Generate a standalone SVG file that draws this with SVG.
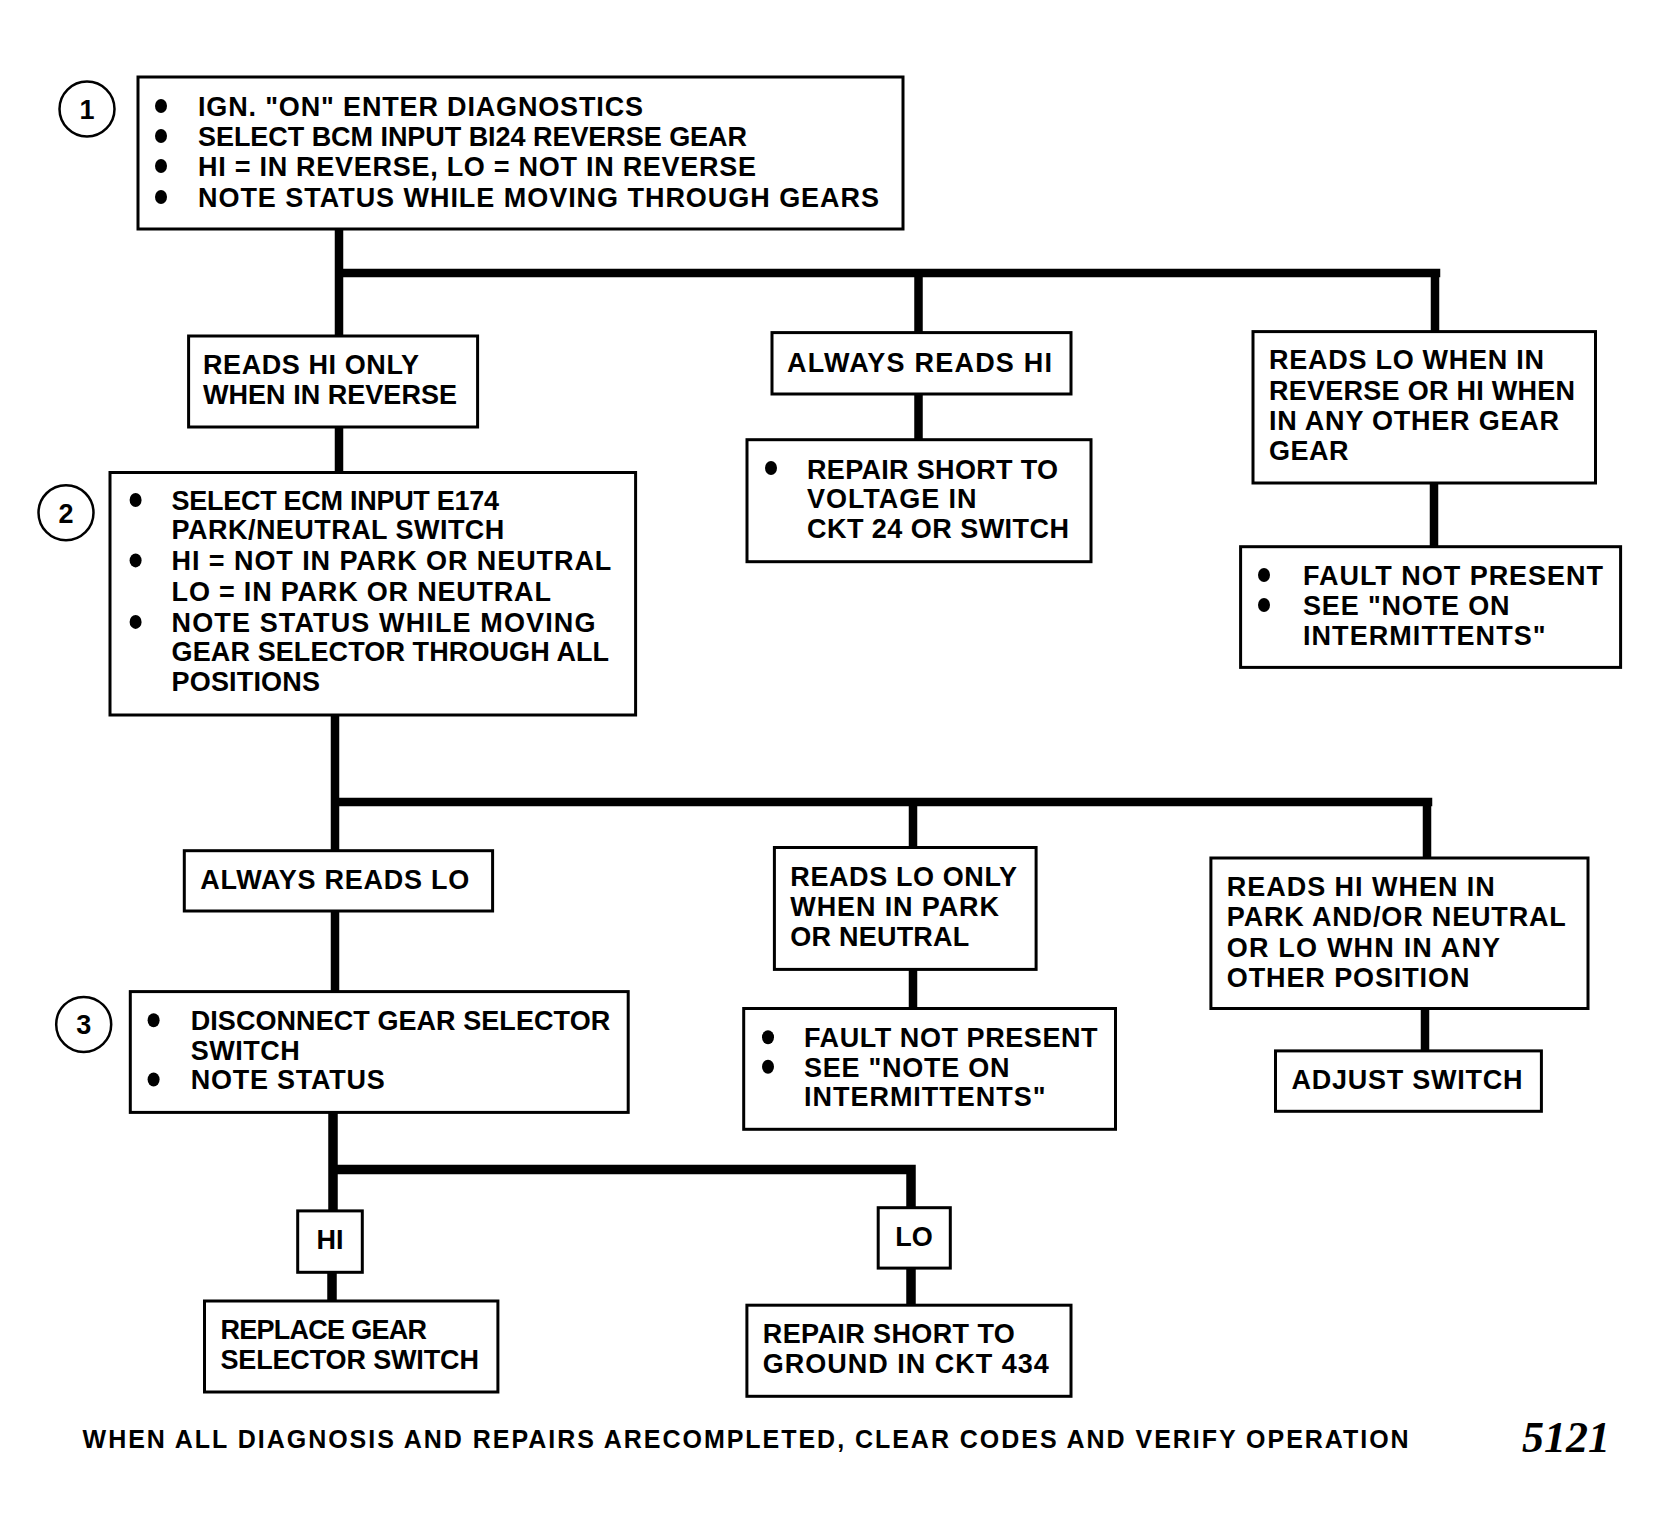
<svg xmlns="http://www.w3.org/2000/svg" width="1661" height="1527" viewBox="0 0 1661 1527">
<style>
.box{fill:#fff;stroke:#000;stroke-width:3}
.t{font-family:"Liberation Sans",Arial,sans-serif;font-weight:bold;font-size:27px;fill:#000}
.b{fill:#000}
.num{font-family:"Liberation Sans",Arial,sans-serif;font-size:27px;font-weight:bold;fill:#000;text-anchor:middle}
.ring{fill:none;stroke:#000;stroke-width:2.5}
.c{fill:none;stroke:#000;stroke-width:8.5;stroke-linecap:square}
.foot{font-family:"Liberation Sans",Arial,sans-serif;font-weight:bold;font-size:25px;fill:#000}
.fig{font-family:"Liberation Serif","Times New Roman",serif;font-style:italic;font-weight:bold;font-size:44px;fill:#000}
</style>
<rect width="1661" height="1527" fill="#fff"/>
<g id="connectors">
<path class="c" d="M339,229 V472 M339,273 H1436 M918.5,273 V332 M918.5,394 V439 M1435,273 V331 M1434,483 V546"/>
<path class="c" d="M335,715 V991 M335,802 H1428 M913,802 V847 M913,969 V1008 M1427,802 V858 M1425,1008 V1051"/>
<path class="c" d="M333,1112 V1211 M333,1169.6 H911 M911,1169.6 V1208 M332,1272 V1301 M911,1268 V1305" style="stroke-width:9.5"/>
</g>
<g id="n1">
<circle class="ring" cx="87" cy="109" r="27.5"/>
<text class="num" x="87" y="119">1</text>
<rect class="box" x="138" y="77" width="765" height="152"/>
<ellipse class="b" cx="161" cy="106" rx="6" ry="7"/>
<ellipse class="b" cx="161" cy="136" rx="6" ry="7"/>
<ellipse class="b" cx="161" cy="166" rx="6" ry="7"/>
<ellipse class="b" cx="161" cy="197" rx="6" ry="7"/>
<text class="t" x="198" y="115.5" textLength="445">IGN. "ON" ENTER DIAGNOSTICS</text>
<text class="t" x="198" y="145.5" textLength="549">SELECT BCM INPUT BI24 REVERSE GEAR</text>
<text class="t" x="198" y="176" textLength="558">HI = IN REVERSE, LO = NOT IN REVERSE</text>
<text class="t" x="198" y="206.5" textLength="681">NOTE STATUS WHILE MOVING THROUGH GEARS</text>
</g>
<g id="nA">
<rect class="box" x="188.6" y="336" width="289" height="91"/>
<text class="t" x="203" y="373.5" textLength="216">READS HI ONLY</text>
<text class="t" x="203" y="404" textLength="254">WHEN IN REVERSE</text>
</g>
<g id="nB">
<rect class="box" x="772" y="332.6" width="299" height="61.4"/>
<text class="t" x="787" y="371.5" textLength="265">ALWAYS READS HI</text>
</g>
<g id="nC">
<rect class="box" x="747" y="439.7" width="344" height="122"/>
<ellipse class="b" cx="771" cy="468" rx="6" ry="7"/>
<text class="t" x="807" y="478.5" textLength="251">REPAIR SHORT TO</text>
<text class="t" x="807" y="508" textLength="169.5">VOLTAGE IN</text>
<text class="t" x="807" y="537.5" textLength="262">CKT 24 OR SWITCH</text>
</g>
<g id="nD">
<rect class="box" x="1253" y="331.6" width="342.5" height="151.4"/>
<text class="t" x="1269" y="369" textLength="275">READS LO WHEN IN</text>
<text class="t" x="1269" y="399.8" textLength="306">REVERSE OR HI WHEN</text>
<text class="t" x="1269" y="430.4" textLength="290">IN ANY OTHER GEAR</text>
<text class="t" x="1269" y="460" textLength="79.5">GEAR</text>
</g>
<g id="nE">
<rect class="box" x="1240.6" y="546.7" width="380" height="120.7"/>
<ellipse class="b" cx="1264" cy="575" rx="6" ry="7"/>
<ellipse class="b" cx="1264" cy="605" rx="6" ry="7"/>
<text class="t" x="1303" y="585.2" textLength="300">FAULT  NOT PRESENT</text>
<text class="t" x="1303" y="614.9" textLength="206.6">SEE "NOTE ON</text>
<text class="t" x="1303" y="645.4" textLength="242.6">INTERMITTENTS"</text>
</g>
<g id="n2">
<circle class="ring" cx="66" cy="512.7" r="27.5"/>
<text class="num" x="66" y="522.5">2</text>
<rect class="box" x="110" y="472.5" width="525.6" height="242.5"/>
<ellipse class="b" cx="135.6" cy="500" rx="6" ry="7"/>
<ellipse class="b" cx="135.6" cy="560.4" rx="6" ry="7"/>
<ellipse class="b" cx="135.6" cy="621.9" rx="6" ry="7"/>
<text class="t" x="171.6" y="509.9" textLength="327.4">SELECT ECM INPUT E174</text>
<text class="t" x="171.6" y="539.4" textLength="332.7">PARK/NEUTRAL SWITCH</text>
<text class="t" x="171.6" y="570.4" textLength="439.7">HI = NOT IN PARK OR NEUTRAL</text>
<text class="t" x="171.6" y="600.9" textLength="379.3">LO = IN PARK OR NEUTRAL</text>
<text class="t" x="171.6" y="631.9" textLength="423.8">NOTE STATUS WHILE MOVING</text>
<text class="t" x="171.6" y="661.4" textLength="437.5">GEAR SELECTOR THROUGH ALL</text>
<text class="t" x="171.6" y="691.1" textLength="148.3">POSITIONS</text>
</g>
<g id="nF">
<rect class="box" x="184.3" y="850.7" width="308.3" height="60.3"/>
<text class="t" x="200.2" y="889.2" textLength="269">ALWAYS READS LO</text>
</g>
<g id="nG">
<rect class="box" x="774.4" y="847.5" width="261.7" height="121.9"/>
<text class="t" x="790.3" y="886" textLength="226.7">READS LO ONLY</text>
<text class="t" x="790.3" y="915.7" textLength="208.7">WHEN IN PARK</text>
<text class="t" x="790.3" y="946.4" textLength="179">OR NEUTRAL</text>
</g>
<g id="nH">
<rect class="box" x="743.7" y="1008.5" width="371.8" height="120.8"/>
<ellipse class="b" cx="768" cy="1037.2" rx="6" ry="7"/>
<ellipse class="b" cx="768" cy="1066.8" rx="6" ry="7"/>
<text class="t" x="804" y="1047.1" textLength="293.5">FAULT NOT PRESENT</text>
<text class="t" x="804" y="1076.7" textLength="205.5">SEE "NOTE ON</text>
<text class="t" x="804" y="1106.4" textLength="241.5">INTERMITTENTS"</text>
</g>
<g id="nI">
<rect class="box" x="1210.9" y="858" width="377.1" height="150.5"/>
<text class="t" x="1226.8" y="895.6" textLength="268">READS HI WHEN IN</text>
<text class="t" x="1226.8" y="926.3" textLength="339">PARK AND/OR NEUTRAL</text>
<text class="t" x="1226.8" y="957" textLength="273.3">OR LO WHN IN ANY</text>
<text class="t" x="1226.8" y="986.7" textLength="242.6">OTHER POSITION</text>
</g>
<g id="nJ">
<rect class="box" x="1275.5" y="1050.9" width="265.9" height="60.4"/>
<text class="t" x="1291.4" y="1089.4" textLength="231">ADJUST SWITCH</text>
</g>
<g id="n3">
<circle class="ring" cx="83.7" cy="1024.4" r="27.5"/>
<text class="num" x="83.7" y="1034">3</text>
<rect class="box" x="130.3" y="991.6" width="497.9" height="120.8"/>
<ellipse class="b" cx="153.6" cy="1020.2" rx="6" ry="7"/>
<ellipse class="b" cx="153.6" cy="1079.5" rx="6" ry="7"/>
<text class="t" x="190.7" y="1030.1" textLength="419.5">DISCONNECT GEAR SELECTOR</text>
<text class="t" x="190.7" y="1059.8" textLength="109">SWITCH</text>
<text class="t" x="190.7" y="1089.4" textLength="194">NOTE STATUS</text>
</g>
<g id="nHI">
<rect class="box" x="297.7" y="1210.9" width="64.6" height="61.4"/>
<text class="t" x="330" y="1249.4" text-anchor="middle">HI</text>
</g>
<g id="nLO">
<rect class="box" x="878.2" y="1207.7" width="72.1" height="60.4"/>
<text class="t" x="914" y="1246.2" text-anchor="middle">LO</text>
</g>
<g id="nK">
<rect class="box" x="204.5" y="1301" width="293.4" height="91"/>
<text class="t" x="220.4" y="1339.4" textLength="206.6">REPLACE GEAR</text>
<text class="t" x="220.4" y="1369.1" textLength="258.5">SELECTOR SWITCH</text>
</g>
<g id="nL">
<rect class="box" x="746.9" y="1305.2" width="324.1" height="91.1"/>
<text class="t" x="762.8" y="1342.6" textLength="252">REPAIR SHORT TO</text>
<text class="t" x="762.8" y="1373.3" textLength="286">GROUND IN CKT 434</text>
</g>
<g id="footer">
<text class="foot" x="82.6" y="1447.5" textLength="1326">WHEN ALL DIAGNOSIS AND REPAIRS ARECOMPLETED, CLEAR CODES AND VERIFY OPERATION</text>
<text class="fig" x="1522" y="1452" textLength="88">5121</text>
</g>
</svg>
